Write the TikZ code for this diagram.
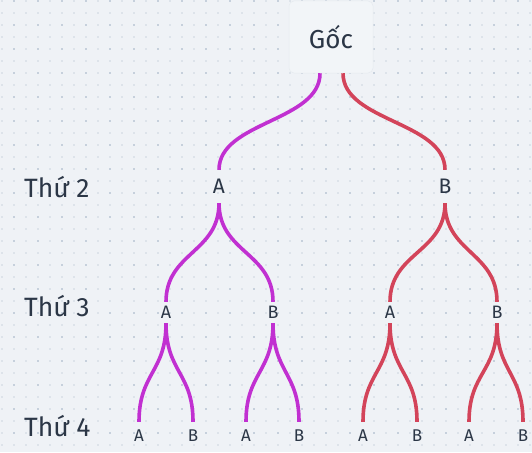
\documentclass[tikz,border=0pt]{standalone}
\usepackage{fontspec}
\setmainfont{Fira Sans}
\usetikzlibrary{calc}
\definecolor{bg}{HTML}{EFF2F6}
\definecolor{dotl}{HTML}{DDE3EA}
\definecolor{dotd}{HTML}{C6D0DC}
\definecolor{ink}{HTML}{2B3646}
\definecolor{purp}{HTML}{C130D1}
\definecolor{rosered}{HTML}{D3445A}
\definecolor{boxfill}{HTML}{F2F5F8}
\definecolor{boxline}{HTML}{E6EAEF}
\begin{document}
\begin{tikzpicture}[x=1pt,y=-1pt,
  treeedge/.style={line width=3.6pt,
    to path={let \p1=(\tikztostart), \p2=(\tikztotarget) in
      .. controls (\x1,{0.5*(\y1+\y2)}) and (\x2,{0.5*(\y1+\y2)}) .. (\tikztotarget)}},
  pedge/.style={treeedge, draw=purp},
  redge/.style={treeedge, draw=rosered},
  rootbox/.style={draw=boxline, line width=0.5pt, fill=boxfill, rounded corners=5pt,
    minimum width=84pt, minimum height=72pt, inner sep=0pt, text=ink,
    font=\fontsize{26}{30}\selectfont},
  lvl/.style={text=ink, inner sep=0pt, font=\fontsize{26.5}{30}\selectfont, anchor=base west},
  ltwo/.style={text=ink, inner sep=0pt, minimum height=33pt, font=\fontsize{21}{24}\selectfont},
  lthree/.style={text=ink, inner sep=0pt, minimum height=21pt, font=\fontsize{18}{20}\selectfont},
  lfour/.style={text=ink, inner sep=0pt, minimum height=27pt, font=\fontsize{17}{19}\selectfont}
]
\useasboundingbox (0,0) rectangle (532,452);
\fill[bg] (0,0) rectangle (532,452);
% dotted grid
\foreach \gx in {2,14,...,530}{
  \foreach \gy in {1,13,...,451}{
    \fill[dotl] (\gx-1,\gy-1) rectangle (\gx+1,\gy+1);
  }
}
\foreach \gx in {14,38,...,530}{
  \foreach \gy in {1,25,...,451}{
    \fill[dotd] (\gx-1,\gy-1) rectangle (\gx+1,\gy+1);
  }
}
% root
\node[rootbox] (root) at (331,37) {Gốc};
% level labels
\node[lvl] (t2) at (24,197) {Thứ 2};
\node[lvl] (t3) at (24,316.5) {Thứ 3};
\node[lvl] (t4) at (24,436) {Thứ 4};
% level 2
\node[ltwo] (a) at (219,186.5) {A};
\node[ltwo] (b) at (445,186.5) {B};
% level 3
\node[lthree] (aa) at (166,312.5) {A};
\node[lthree] (ab) at (273,312.5) {B};
\node[lthree] (ba) at (390,312.5) {A};
\node[lthree] (bb) at (497,312.5) {B};
% level 4
\node[lfour] (aaa) at (139,435.5) {A};
\node[lfour] (aab) at (193,435.5) {B};
\node[lfour] (aba) at (246,435.5) {A};
\node[lfour] (abb) at (299,435.5) {B};
\node[lfour] (baa) at (363,435.5) {A};
\node[lfour] (bab) at (417,435.5) {B};
\node[lfour] (bba) at (469,435.5) {A};
\node[lfour] (bbb) at (523,435.5) {B};
% connectors
\draw[pedge] ([xshift=-11pt]root.south) to (a.north);
\draw[redge] ([xshift=12pt]root.south) to (b.north);
\draw[pedge] (a.south) to (aa.north);
\draw[pedge] (a.south) to (ab.north);
\draw[redge] (b.south) to (ba.north);
\draw[redge] (b.south) to (bb.north);
\draw[pedge] (aa.south) to (aaa.north);
\draw[pedge] (aa.south) to (aab.north);
\draw[pedge] (ab.south) to (aba.north);
\draw[pedge] (ab.south) to (abb.north);
\draw[redge] (ba.south) to (baa.north);
\draw[redge] (ba.south) to (bab.north);
\draw[redge] (bb.south) to (bba.north);
\draw[redge] (bb.south) to (bbb.north);
\end{tikzpicture}
\end{document}
